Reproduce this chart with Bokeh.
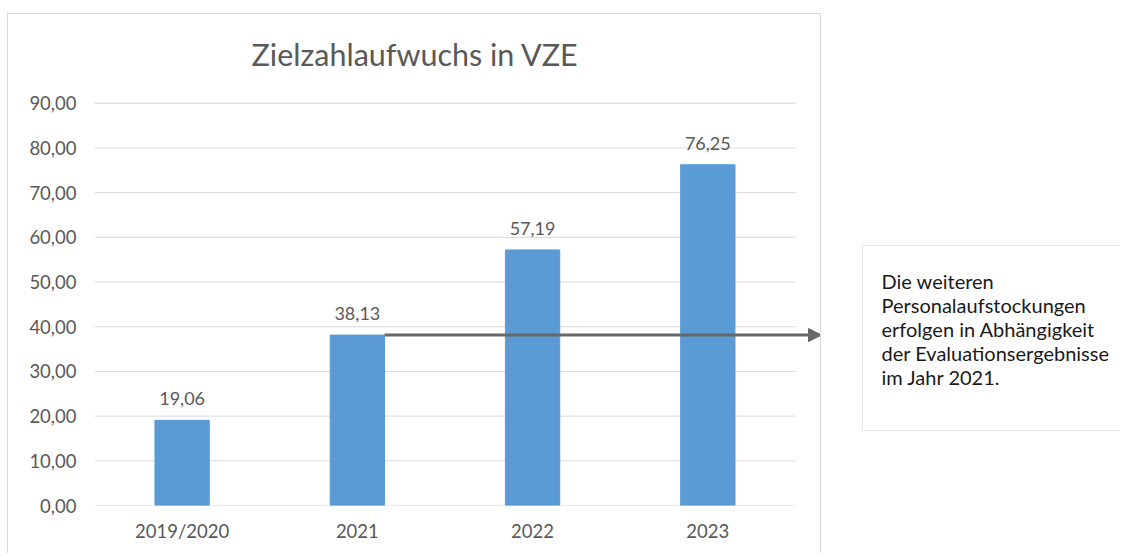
from bokeh.plotting import figure
from bokeh.models import (ColumnDataSource, Range1d, FixedTicker, LabelSet, Label,
                          Arrow, NormalHead, BoxAnnotation)
from bokeh.core.properties import value
from bokeh.layouts import row
from bokeh.embed import file_html
from bokeh.resources import INLINE

# ---- data ----
categories = ["2019/2020", "2021", "2022", "2023"]
values = [19.06, 38.13, 57.19, 76.25]
value_labels = ["19,06", "38,13", "57,19", "76,25"]
y_ticks = [0, 10, 20, 30, 40, 50, 60, 70, 80, 90]
title_text = "Zielzahlaufwuchs in VZE"
note_lines = ["Die weiteren", "Personalaufstockungen", "erfolgen in Abhängigkeit",
              "der Evaluationsergebnisse", "im Jahr 2021."]
arrow_from = "2021"

FONT = "Lato"
GREY = "#595959"
BAR = "#5B9BD5"
BAR_W = 0.31

# ---- layout constants (pixels) ----
PX_PER_CAT = 174.75          # horizontal size of one category slot
PX_PER_UNIT = 4.46           # vertical size of one value unit
W1, H = 814, 540
MB_LEFT, MB_RIGHT, MB_BOTTOM = 86, 2, 49
frame_w = W1 - 2 - MB_LEFT - MB_RIGHT
frame_h = H - 1 - MB_BOTTOM

ncat = len(categories)
xs = [i + 0.5 for i in range(ncat)]
src = ColumnDataSource(dict(x=xs, val=values, lab=value_labels))

p = figure(x_range=Range1d(0, frame_w / PX_PER_CAT), y_range=Range1d(0, frame_h / PX_PER_UNIT),
           width=W1, height=H, output_backend="svg", toolbar_location=None,
           min_border_left=MB_LEFT, min_border_right=MB_RIGHT, min_border_top=0,
           min_border_bottom=MB_BOTTOM)
p.margin = (13, 0, 0, 7)
p.styles = {"border-top": "1px solid #d9d9d9", "border-left": "1px solid #d9d9d9",
            "border-right": "1px solid #d9d9d9"}
p.outline_line_color = None
p.grid.visible = False

# horizontal gridlines across the plot area only
p.segment(x0=[0] * len(y_ticks), y0=y_ticks, x1=[ncat] * len(y_ticks), y1=y_ticks,
          line_color="#d9d9d9", line_width=1)

p.vbar(x="x", top="val", width=BAR_W, source=src, color=BAR)

p.add_layout(LabelSet(x="x", y="val", text="lab", source=src, text_align="center",
                      text_baseline="alphabetic", y_offset=15, text_font=value(FONT),
                      text_font_size="18px", text_color=GREY))

p.xaxis.ticker = FixedTicker(ticks=xs)
p.xaxis.major_label_overrides = {x: c for x, c in zip(xs, categories)}
p.yaxis.ticker = FixedTicker(ticks=y_ticks)
p.yaxis.major_label_overrides = {t: f"{t:.2f}".replace(".", ",") for t in y_ticks}
for ax in (p.xaxis[0], p.yaxis[0]):
    ax.axis_line_color = None
    ax.major_tick_line_color = None
    ax.minor_tick_line_color = None
    ax.major_label_text_font = FONT
    ax.major_label_text_font_size = "18.5px"
    ax.major_label_text_color = GREY
p.yaxis.major_label_standoff = 12
p.xaxis.major_label_standoff = 8

# title centred over the whole chart box
p.add_layout(Label(x=ncat / 2 - 0.17, y=max(y_ticks) + 11.0, text=title_text,
                   text_align="center", text_baseline="alphabetic", text_font=FONT,
                   text_font_size="30.5px", text_color=GREY))

# arrow from the 2021 bar level to the right
i = categories.index(arrow_from)
p.add_layout(Arrow(x_start=i + 0.5 + BAR_W / 2, y_start=values[i],
                   x_end=ncat + 26 / PX_PER_CAT, y_end=values[i],
                   line_color="#686868", line_width=3,
                   end=NormalHead(size=13, fill_color="#686868", line_color="#686868")))

# ---- note box (data coordinates = page pixels, y negated) ----
X0, W2 = 821, 298
q = figure(width=W2, height=H, x_range=Range1d(X0, X0 + W2), y_range=Range1d(-505, -14),
           output_backend="svg", toolbar_location=None, x_axis_type=None, y_axis_type=None,
           min_border_left=0, min_border_right=0, min_border_top=0, min_border_bottom=MB_BOTTOM)
q.margin = (14, 0, 0, 0)
q.grid.visible = False
q.outline_line_color = None
q.add_layout(BoxAnnotation(left=862, right=X0 + W2 + 20, top=-245, bottom=-430,
                           fill_color=None, line_color="#a6a6a6", line_width=1))
q.add_layout(Label(x=881, y=-268, text="\n".join(note_lines),
                   text_align="left", text_baseline="top", text_font=FONT,
                   text_font_size="20px", text_color="#1a1a1a", text_line_height=1.0))

layout = row(p, q)
open("out.html", "w").write(file_html(layout, INLINE))
